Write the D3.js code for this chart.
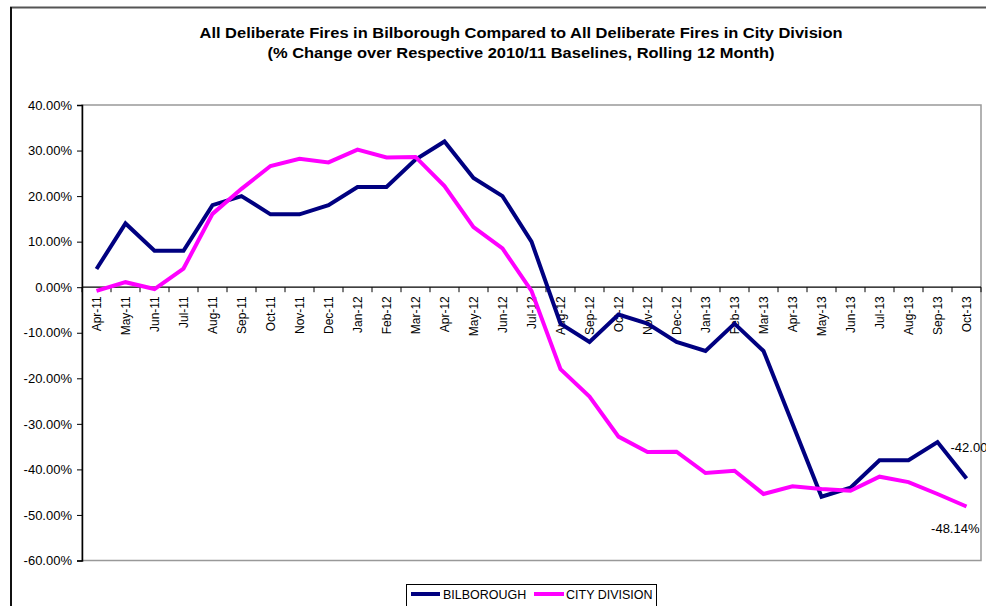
<!DOCTYPE html>
<html>
<head>
<meta charset="utf-8">
<script src="https://cdn.jsdelivr.net/npm/d3@7"></script>
<style>
  html, body { margin: 0; padding: 0; background: #fff; }
  svg { display: block; font-family: "Liberation Sans", Arial, sans-serif; }
</style>
</head>
<body>
<svg id="chart" width="986" height="606"></svg>
<script>
// Rolling 12-month % change over each area's 2010/11 baseline
const months = [
  "Apr-11","May-11","Jun-11","Jul-11","Aug-11","Sep-11","Oct-11","Nov-11","Dec-11",
  "Jan-12","Feb-12","Mar-12","Apr-12","May-12","Jun-12","Jul-12","Aug-12","Sep-12",
  "Oct-12","Nov-12","Dec-12","Jan-13","Feb-13","Mar-13","Apr-13","May-13","Jun-13",
  "Jul-13","Aug-13","Sep-13","Oct-13"
];
const bilborough = [
  4, 14, 8, 8, 18, 20, 16, 16, 18,
  22, 22, 28, 32, 24, 20, 10, -8, -12,
  -6, -8, -12, -14, -8, -14, -30, -46, -44,
  -38, -38, -34, -42
];
const cityDivision = [
  -0.8, 1.1, -0.4, 4.1, 16.1, 21.6, 26.6, 28.2, 27.4,
  30.2, 28.5, 28.6, 22.2, 13.2, 8.5, -0.8, -18.0, -24.0,
  -32.8, -36.2, -36.1, -40.8, -40.3, -45.4, -43.7, -44.3, -44.7,
  -41.6, -42.8, -45.4, -48.14
];
const yTicks = [40, 30, 20, 10, 0, -10, -20, -30, -40, -50, -60];
const titleLines = [
  "All Deliberate Fires in Bilborough Compared to All Deliberate Fires in City Division",
  "(% Change over Respective 2010/11 Baselines, Rolling 12 Month)"
];
const seriesNames = ["BILBOROUGH", "CITY DIVISION"];
const seriesColors = ["#000080", "#ff00ff"];

// Percent with two decimals and a plain hyphen for negatives
const pct = v => d3.format(".2f")(v).replace("\u2212", "-") + "%";

const svg = d3.select("#chart");
const plot = { left: 82, right: 981, top: 105, bottom: 560.5 };

// Outer chart frame
svg.append("line").attr("x1", 10).attr("x2", 986).attr("y1", 7.5).attr("y2", 7.5)
  .attr("stroke", "#555").attr("stroke-width", 2);
svg.append("line").attr("x1", 11).attr("x2", 11).attr("y1", 7).attr("y2", 606)
  .attr("stroke", "#111").attr("stroke-width", 2);

// Title
svg.selectAll("text.title").data(titleLines).join("text")
  .attr("class", "title")
  .attr("x", 521).attr("y", (d, i) => 38 + i * 20)
  .attr("text-anchor", "middle")
  .attr("font-size", 14.5).attr("font-weight", "bold").attr("fill", "#000")
  .attr("textLength", (d, i) => i === 0 ? 643 : 507)
  .attr("lengthAdjust", "spacingAndGlyphs")
  .text(d => d);

const x = d3.scaleBand().domain(months).range([plot.left, plot.right]).padding(0);
const y = d3.scaleLinear().domain([-60, 40]).range([plot.bottom, plot.top]);

// Plot area border (top and right in gray)
svg.append("rect")
  .attr("x", plot.left).attr("y", plot.top)
  .attr("width", plot.right - plot.left).attr("height", plot.bottom - plot.top)
  .attr("fill", "none").attr("stroke", "#999").attr("stroke-width", 1.5);

// Y axis
const yAxis = svg.append("g").attr("transform", `translate(${plot.left},0)`)
  .call(d3.axisLeft(y).tickValues(yTicks).tickSize(5).tickPadding(5).tickFormat(pct));
yAxis.select(".domain").attr("stroke", "#000").attr("stroke-width", 1.5);
yAxis.selectAll(".tick line").attr("stroke", "#000");
yAxis.selectAll(".tick text").attr("font-size", 13).attr("fill", "#000")
  .attr("font-family", "Liberation Sans, Arial, sans-serif");

// X axis at zero, tick marks between categories
const zeroY = y(0);
const xAxisG = svg.append("g");
xAxisG.append("line").attr("x1", plot.left).attr("x2", plot.right)
  .attr("y1", zeroY).attr("y2", zeroY).attr("stroke", "#000").attr("stroke-width", 1.2);
xAxisG.selectAll("line.tick").data(months.concat(["__end"])).join("line")
  .attr("class", "tick")
  .attr("x1", (d, i) => plot.left + i * x.bandwidth())
  .attr("x2", (d, i) => plot.left + i * x.bandwidth())
  .attr("y1", zeroY).attr("y2", zeroY + 5)
  .attr("stroke", "#000");
xAxisG.selectAll("text").data(months).join("text")
  .attr("transform", d => `translate(${x(d) + x.bandwidth() / 2},${zeroY + 9}) rotate(-90)`)
  .attr("text-anchor", "end").attr("dy", "0.35em")
  .attr("font-size", 12).attr("fill", "#000")
  .text(d => d);

// Series lines
const line = d3.line()
  .x((d, i) => x(months[i]) + x.bandwidth() / 2)
  .y(d => y(d));
[bilborough, cityDivision].forEach((s, k) => {
  svg.append("path").datum(s)
    .attr("d", line)
    .attr("fill", "none")
    .attr("stroke", seriesColors[k]).attr("stroke-width", 4)
    .attr("stroke-linejoin", "miter");
});

// End value labels
const last = months.length - 1;
const lastX = x(months[last]) + x.bandwidth() / 2;
svg.append("text")
  .attr("x", lastX - 16).attr("y", y(bilborough[last - 1]) + 10)
  .attr("font-size", 13).attr("fill", "#000")
  .text(pct(bilborough[last]));
svg.append("text")
  .attr("x", lastX + 13).attr("y", y(cityDivision[last]) + 27)
  .attr("text-anchor", "end")
  .attr("font-size", 13).attr("fill", "#000")
  .text(pct(cityDivision[last]));

// Legend
const legend = svg.append("g");
legend.append("rect").attr("x", 406.5).attr("y", 584.5).attr("width", 250).attr("height", 30)
  .attr("fill", "#fff").attr("stroke", "#000").attr("stroke-width", 1);
const legendItems = [
  { x0: 411, x1: 440, tx: 443 },
  { x0: 534, x1: 564, tx: 566 }
];
seriesNames.forEach((name, k) => {
  const it = legendItems[k];
  legend.append("line").attr("x1", it.x0).attr("x2", it.x1).attr("y1", 594).attr("y2", 594)
    .attr("stroke", seriesColors[k]).attr("stroke-width", 4);
  legend.append("text").attr("x", it.tx).attr("y", 598.5)
    .attr("font-size", 12.5).attr("fill", "#000").text(name);
});
</script>
</body>
</html>
